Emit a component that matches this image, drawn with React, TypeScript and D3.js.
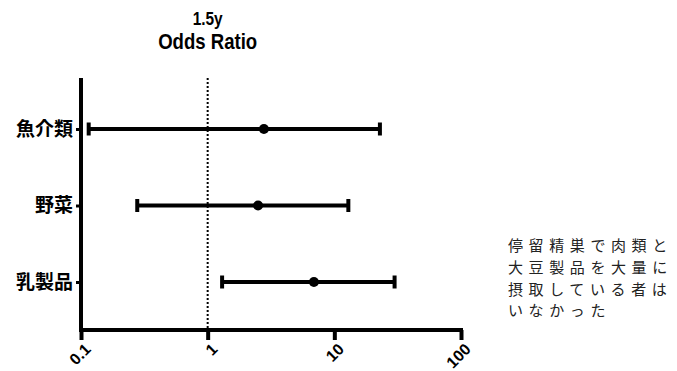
import React, { useEffect, useRef } from 'react';
import * as d3 from 'd3';

const categories = ['魚介類', '野菜', '乳製品'];
const oddsRatio = [2.78, 2.5, 6.9];
const ciLow = [0.115, 0.278, 1.3];
const ciHigh = [22.9, 12.9, 29.9];
const tickValues = [0.1, 1, 10, 100];
const tickLabels = ['0.1', '1', '10', '100'];
const noteLines = ['停留精巣で肉類と', '大豆製品を大量に', '摂取している者は', 'いなかった'];

const App = () => {
  const svgRef = useRef<SVGSVGElement>(null);
  const width = 677;
  const height = 371;
  const margin = { left: 81, right: 216, top: 78, bottom: 41 };

  useEffect(() => {
    const svg = d3.select(svgRef.current);
    svg.selectAll('*').remove();
    const font = '"Liberation Sans", Arial, sans-serif';
    const cjk = '"Noto Sans CJK JP", sans-serif';

    const x = d3.scaleLog()
      .domain([0.1, 100])
      .range([margin.left, width - margin.right]);

    const y = d3.scalePoint<string>()
      .domain(categories)
      .range([129, 282]);

    const axisY = height - margin.bottom;

    // title
    svg.append('text')
      .attr('x', x(1)).attr('y', 25)
      .attr('text-anchor', 'middle')
      .attr('textLength', 30).attr('lengthAdjust', 'spacingAndGlyphs')
      .style('font-family', font).style('font-weight', 'bold').style('font-size', '18px')
      .text('1.5y');
    svg.append('text')
      .attr('x', x(1)).attr('y', 49)
      .attr('text-anchor', 'middle')
      .attr('textLength', 99).attr('lengthAdjust', 'spacingAndGlyphs')
      .style('font-family', font).style('font-weight', 'bold').style('font-size', '22px')
      .text('Odds Ratio');

    // reference line at 1
    svg.append('line')
      .attr('x1', x(1)).attr('x2', x(1))
      .attr('y1', margin.top).attr('y2', axisY)
      .attr('stroke', '#000').attr('stroke-width', 2)
      .attr('stroke-dasharray', '2,2');

    // x axis
    const xAxis = d3.axisBottom(x)
      .tickValues(tickValues)
      .tickFormat((d, i) => tickLabels[i])
      .tickSize(10)
      .tickPadding(6);

    const gx = svg.append('g')
      .attr('transform', `translate(0, ${axisY})`)
      .call(xAxis);
    gx.select('.domain').attr('stroke-width', 4).attr('d', `M${margin.left - 2},0H${x(100) + 2}`);
    gx.selectAll('.tick line').attr('stroke-width', 4);
    gx.selectAll('.tick text')
      .attr('transform', 'translate(-5,5) rotate(-45)')
      .attr('dy', '0.35em')
      .style('text-anchor', 'end')
      .style('font-family', font).style('font-weight', 'bold').style('font-size', '16px')
      .attr('fill', '#000');

    // y axis
    const yAxis = d3.axisLeft(y).tickSize(5).tickPadding(3);
    const gy = svg.append('g')
      .attr('transform', `translate(${margin.left}, 0)`)
      .call(yAxis);
    gy.select('.domain').attr('stroke-width', 4).attr('d', `M0,${margin.top}V${axisY + 2}`);
    gy.selectAll('.tick line').attr('stroke-width', 3);
    gy.selectAll('.tick text')
      .style('font-family', cjk).style('font-weight', 'bold').style('font-size', '19px')
      .attr('fill', '#000');

    // error bars
    const rows = categories.map((c, i) => ({ c, or: oddsRatio[i], lo: ciLow[i], hi: ciHigh[i] }));
    const g = svg.append('g');
    g.selectAll('line.bar').data(rows).enter().append('line')
      .attr('x1', d => x(d.lo)).attr('x2', d => x(d.hi))
      .attr('y1', d => y(d.c)!).attr('y2', d => y(d.c)!)
      .attr('stroke', '#000').attr('stroke-width', 4);
    ['lo', 'hi'].forEach(k => {
      g.selectAll(`line.cap-${k}`).data(rows).enter().append('line')
        .attr('x1', d => x((d as any)[k])).attr('x2', d => x((d as any)[k]))
        .attr('y1', d => y(d.c)! - 6.5).attr('y2', d => y(d.c)! + 6.5)
        .attr('stroke', '#000').attr('stroke-width', 4);
    });
    g.selectAll('circle').data(rows).enter().append('circle')
      .attr('cx', d => x(d.or)).attr('cy', d => y(d.c)!)
      .attr('r', 5).attr('fill', '#000');

    // note, one text per line
    svg.append('g').selectAll('text').data(noteLines).enter().append('text')
      .attr('x', 508).attr('y', (d, i) => 251 + i * 21.8)
      .style('font-family', cjk).style('font-size', '15px')
      .style('letter-spacing', '5.6px')
      .attr('fill', '#222')
      .text(d => d);
  }, []);

  return (
    <svg ref={svgRef} width={width} height={height}
      style={{ position: 'absolute', left: 0, top: 0, background: '#fff' }} />
  );
};

export default App;
